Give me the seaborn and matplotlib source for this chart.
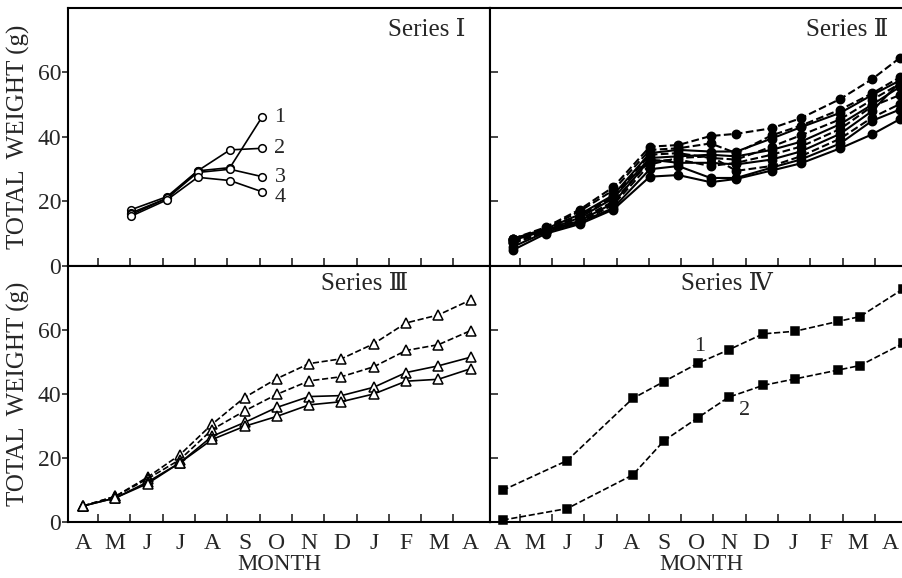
import matplotlib
matplotlib.use("Agg")
import matplotlib.pyplot as plt
import seaborn as sns

# ---- data -------------------------------------------------------------
months = ["A", "M", "J", "J", "A", "S", "O", "N", "D", "J", "F", "M", "A"]
yticks = [0, 20, 40, 60]

# Series I (open circles, solid lines)
s1_x = [1.5, 2.6, 3.55, 4.55, 5.55]
s1_line1 = [17.5, 21.5, 29.5, 30.5, 46.3]
s1_line2 = [16.5, 21.0, 29.5, 36.0, 36.5]
s1_line3 = [16.0, 21.0, 29.0, 30.0, 27.7]
s1_line4 = [15.5, 20.5, 27.5, 26.5, 23.0]
s1_names = ["1", "2", "3", "4"]

# Series II (filled circles, solid and dashed lines)
s2_x = [0.33, 1.33, 2.39, 3.43, 4.56, 5.44, 6.44, 7.24, 8.33, 9.23, 10.46, 11.44, 12.3]
s2_a = [8.5, 12.0, 17.5, 24.5, 37.0, 37.5, 40.3, 41.0, 42.7, 45.8, 51.8, 57.9, 64.5]
s2_b = [8.0, 11.5, 17.0, 23.5, 36.0, 36.5, 38.0, 35.0, 40.5, 43.5, 48.5, 53.5, 58.5]
s2_c = [8.5, 11.5, 16.0, 22.0, 35.0, 36.0, 35.5, 35.5, 39.5, 43.0, 47.5, 53.0, 57.5]
s2_d = [7.5, 11.0, 15.5, 21.5, 34.5, 35.0, 33.5, 33.0, 37.0, 40.5, 45.5, 51.5, 56.5]
s2_e = [8.0, 11.0, 15.0, 21.0, 33.5, 34.0, 34.5, 34.0, 36.0, 38.5, 44.0, 50.0, 55.5]
s2_f = [7.0, 10.5, 14.5, 20.0, 32.5, 33.0, 31.0, 32.0, 34.5, 37.0, 42.5, 49.5, 53.0]
s2_g = [8.5, 11.0, 14.0, 19.5, 33.0, 32.0, 32.0, 31.5, 33.0, 35.5, 41.0, 48.0, 57.0]
s2_h = [7.5, 10.5, 13.5, 19.0, 31.5, 33.5, 34.0, 29.5, 31.0, 34.0, 39.5, 46.0, 50.2]
s2_i = [6.0, 10.5, 13.5, 18.0, 30.0, 31.0, 27.3, 27.3, 30.5, 33.0, 38.0, 45.0, 48.5]
s2_j = [5.0, 10.0, 13.0, 17.5, 27.7, 28.2, 26.0, 27.0, 29.6, 31.8, 36.5, 40.8, 45.5]
s2_styles = ["--", "--", "-", "--", "-", "--", "-", "--", "-", "-"]

# Series III (open triangles)
s3_x = list(range(13))
s3_line1 = [5.0, 8.0, 14.0, 21.0, 30.6, 38.9, 44.8, 49.5, 51.0, 55.7, 62.2, 64.7, 69.4]
s3_line2 = [5.0, 8.0, 13.5, 19.5, 28.9, 34.7, 39.9, 44.1, 45.4, 48.5, 53.6, 55.4, 59.8]
s3_line3 = [5.0, 7.5, 12.5, 18.5, 26.8, 31.1, 35.8, 39.2, 39.5, 42.1, 46.7, 48.8, 51.5]
s3_line4 = [5.0, 7.5, 12.0, 18.5, 25.8, 29.9, 33.0, 36.6, 37.6, 40.0, 44.0, 44.6, 47.9]
s3_styles = ["--", "--", "-", "-"]

# Series IV (filled squares, dashed lines)
s4_x = [0.0, 2.0, 4.03, 5.0, 6.05, 7.0, 8.07, 9.05, 10.4, 11.07, 12.4]
s4_line1 = [9.9, 19.2, 38.6, 43.9, 49.6, 53.8, 58.8, 59.6, 62.7, 64.2, 72.8]
s4_line2 = [0.6, 4.2, 14.7, 25.4, 32.6, 39.0, 42.7, 44.7, 47.5, 48.9, 55.8]

# ---- style ------------------------------------------------------------
sns.set_style("ticks")
plt.rcParams["font.family"] = ["Liberation Serif", "DejaVu Serif", "Noto Sans CJK JP"]
plt.rcParams["axes.linewidth"] = 1.5

W, H = 903, 578
fig = plt.figure(figsize=(W / 100, H / 100), dpi=100)


def box(x0, y0, x1, y1):
    return [x0 / W, 1 - y1 / H, (x1 - x0) / W, (y1 - y0) / H]


ax1 = fig.add_axes(box(68, 8, 490, 266))
ax2 = fig.add_axes(box(490, 8, 912, 266))
ax3 = fig.add_axes(box(68, 266, 490, 522))
ax4 = fig.add_axes(box(490, 266, 912, 522))

left_xlim = (-0.464, 12.6)
right_xlim = (-0.39, 12.68)

for ax, xl, left, bottom in [(ax1, left_xlim, True, False),
                             (ax2, right_xlim, False, False),
                             (ax3, left_xlim, True, True),
                             (ax4, right_xlim, False, True)]:
    ax.set_xlim(*xl)
    ax.set_ylim(0, 80)
    for s in ax.spines.values():
        s.set_visible(True)
        s.set_linewidth(1.5)
        s.set_color("black")
    off = 0.47 if left else 0.53
    ax.set_xticks([k + off for k in range(12)], minor=True)
    ax.set_xticks(range(13))
    ax.set_xticklabels(months if bottom else [""] * 13)
    ax.tick_params(axis="x", which="major", length=0, labelsize=17, pad=8,
                   labelbottom=bottom)
    ax.tick_params(axis="x", which="minor", direction="in", length=6, width=1.2)
    ax.set_yticks(yticks)
    if left:
        ax.tick_params(axis="y", direction="out", length=4, width=1.2,
                       labelsize=17, pad=1)
        ax.set_ylabel("TOTAL  WEIGHT (g)", fontsize=18)
        ax.yaxis.set_label_coords(-0.09, 0.5)
    else:
        ax.tick_params(axis="y", direction="in", length=6, width=1.2,
                       labelleft=False)
    if bottom:
        ax.set_xlabel("MONTH", fontsize=16.5, labelpad=0)
    ax.set_facecolor("white")


def draw(ax, x, y, ls, marker, ms, mfc, lw=1.2):
    sns.lineplot(x=x, y=y, ax=ax, color="black", linestyle=ls, linewidth=lw,
                 marker=marker, markersize=ms, markerfacecolor=mfc,
                 markeredgecolor="black", markeredgewidth=1.1,
                 clip_on=False, sort=False, legend=False)


# Series I
for vals in [s1_line1, s1_line2, s1_line3, s1_line4]:
    draw(ax1, s1_x, vals, "-", "o", 5.5, "white")
for name, ty in zip(s1_names, [46.2, 36.3, 27.3, 21.1]):
    ax1.text(6.1, ty, name, fontsize=16, ha="center", va="center")

# Series II
for vals, ls in zip([s2_a, s2_b, s2_c, s2_d, s2_e, s2_f, s2_g, s2_h, s2_i, s2_j],
                    s2_styles):
    draw(ax2, s2_x, vals, ls, "o", 6, "black", lw=1.5)

# Series III
for vals, ls in zip([s3_line1, s3_line2, s3_line3, s3_line4], s3_styles):
    draw(ax3, s3_x, vals, ls, "^", 7, "white")

# Series IV
for vals in [s4_line1, s4_line2]:
    draw(ax4, s4_x, vals, "--", "s", 5.5, "black")
ax4.text(6.09, 54.9, "1", fontsize=16, ha="center", va="center")
ax4.text(7.48, 34.7, "2", fontsize=16, ha="center", va="center")

# Panel titles
ax1.text(0.941, 0.915, "Series \u2160", transform=ax1.transAxes, fontsize=18,
         ha="right", va="center")
ax2.text(0.943, 0.915, "Series \u2161", transform=ax2.transAxes, fontsize=18,
         ha="right", va="center")
ax3.text(0.806, 0.93, "Series \u2162", transform=ax3.transAxes, fontsize=18,
         ha="right", va="center")
ax4.text(0.67, 0.93, "Series \u2163", transform=ax4.transAxes, fontsize=18,
         ha="right", va="center")

fig.savefig("out.png", dpi=100, facecolor="white")
